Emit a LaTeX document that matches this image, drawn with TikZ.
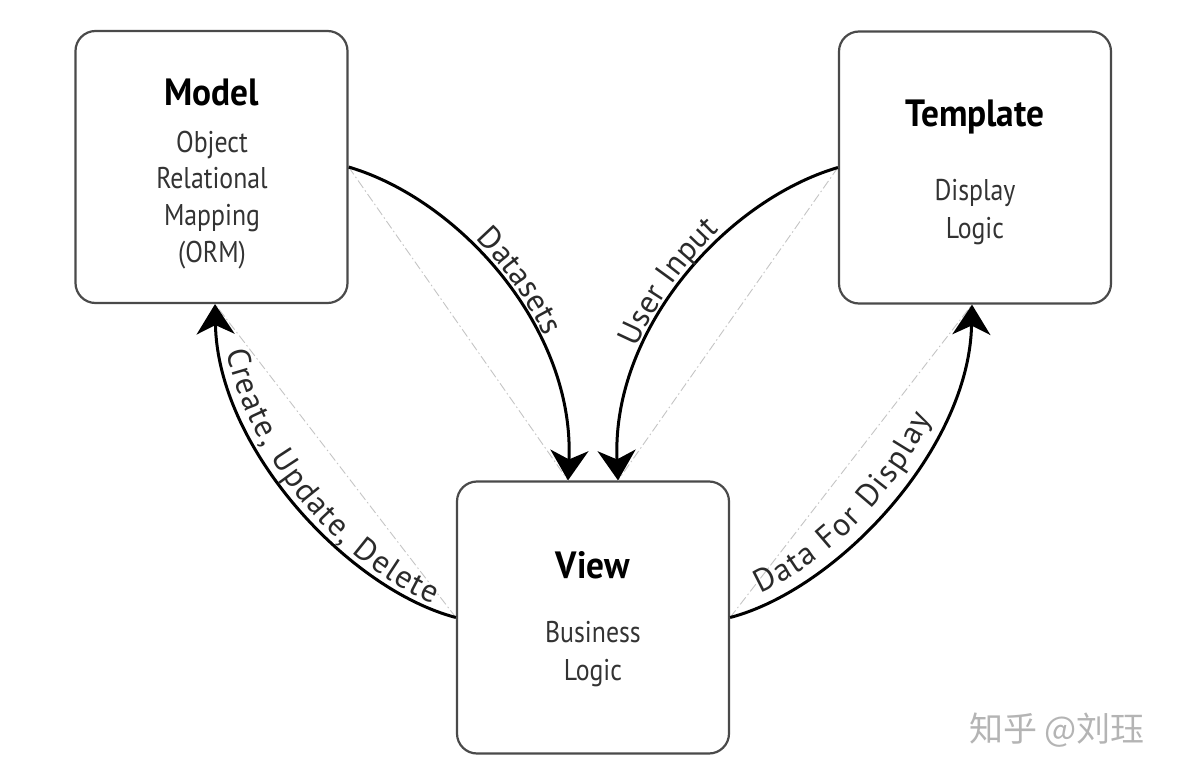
\documentclass[tikz,border=0pt]{standalone}
\usepackage{fontspec}
\setmainfont{PT Sans}
\newfontfamily\boxfont{PT Sans}[FakeStretch=0.86]
\newfontfamily\titlefont{PT Sans}[FakeStretch=0.93]
\newfontfamily\labfont{PT Sans}
\newfontfamily\cjkfont{Noto Sans CJK SC}
\usetikzlibrary{arrows.meta,decorations.text}
\definecolor{boxgray}{HTML}{4A4A4A}
\definecolor{subgray}{HTML}{333333}
\definecolor{chordgray}{HTML}{C4C4C4}
\definecolor{wmgray}{HTML}{B4B4B4}
\definecolor{labgray}{HTML}{2A2A2A}
\tikzset{
  boxstyle/.style={draw=boxgray, line width=2.2pt, rounded corners=20pt, minimum width=272pt, minimum height=272pt, inner sep=0pt},
  flow/.style={line width=3pt, -{Stealth[length=30pt,width=38pt,inset=9pt]}},
  chord/.style={draw=chordgray, line width=0.9pt, dash pattern=on 9pt off 3pt on 1.5pt off 3pt},
  titletext/.style={font=\titlefont\bfseries\fontsize{38}{38}\selectfont, anchor=base, inner sep=0pt},
  subtext/.style={font=\boxfont\fontsize{30}{30}\selectfont, text=subgray, anchor=base, inner sep=0pt},
  wmtext/.style={font=\cjkfont\fontsize{34}{34}\selectfont, text=wmgray, inner sep=0pt},
}
\newcommand{\lab}{\labfont\fontsize{32}{32}\selectfont\color{labgray}}
\newcommand{\labwide}{\labfont\fontsize{32}{32}\selectfont\color{labgray}\kern1.7pt}
\newcommand{\labwider}{\labfont\fontsize{32}{32}\selectfont\color{labgray}\kern2.1pt}
\begin{document}
\begin{tikzpicture}[x=1pt,y=-1pt]
\useasboundingbox (0,0) rectangle (1179,776);
% boxes
\node[boxstyle] (model) at (211.5,167) {};
\node[boxstyle] (template) at (975,167.5) {};
\node[boxstyle] (view) at (593,617.5) {};
% box texts
\node[titletext] (mtitle) at (212,106) {Model};
\node[subtext] (m1) at (212,152) {Object};
\node[subtext] (m2) at (212,188) {Relational};
\node[subtext] (m3) at (212,225) {Mapping};
\node[subtext] (m4) at (212,262) {(ORM)};
\node[titletext] (ttitle) at (975,127) {Template};
\node[subtext] (t1) at (975,200) {Display};
\node[subtext] (t2) at (975,238) {Logic};
\node[titletext] (vtitle) at (593,578) {View};
\node[subtext] (v1) at (593,642) {Business};
\node[subtext] (v2) at (593,680) {Logic};
% chords
\draw[chord] (model.east) -- ([xshift=-25pt]view.north);
\draw[chord] (template.west) -- ([xshift=25pt]view.north);
\draw[chord] (view.west) -- ([xshift=3.5pt]model.south);
\draw[chord] (view.east) -- ([xshift=-3pt]template.south);
% arrows
\draw[flow] (model.east) .. controls +(112,33) and +(7,-151) .. ([xshift=-25pt]view.north);
\draw[flow] (template.west) .. controls +(-112,33) and +(-7,-151) .. ([xshift=25pt]view.north);
\draw[flow] (view.west) .. controls +(-107,-28) and +(3,145) .. ([xshift=3.5pt]model.south);
\draw[flow] (view.east) .. controls +(107,-28) and +(-3,145) .. ([xshift=-3pt]template.south);
% labels along arrows
\path[decorate, decoration={text along path, text align=center, raise=6pt,
  text={|\lab|Datasets}}]
  (model.east) .. controls +(112,33) and +(7,-151) .. ([xshift=-25pt]view.north);
\path[decorate, decoration={text along path, text align=center, raise=6pt,
  text={|\lab|User Input}}]
  ([xshift=25pt]view.north) .. controls +(-7,-151) and +(-112,33) .. (template.west);
\path[decorate, decoration={text along path, text align={left indent=47pt}, raise=6pt,
  text={|\labwide|Create, Update, Delete}}]
  ([xshift=3.5pt]model.south) .. controls +(3,145) and +(-107,-28) .. (view.west);
\path[decorate, decoration={text along path, text align={left indent=36pt}, raise=12pt,
  text={|\labwider|Data  For Display}}]
  (view.east) .. controls +(107,-28) and +(-3,145) .. ([xshift=-3pt]template.south);
% watermark
\node[wmtext] (wm) at (1057,730) {知乎 @刘珏};
\end{tikzpicture}
\end{document}
